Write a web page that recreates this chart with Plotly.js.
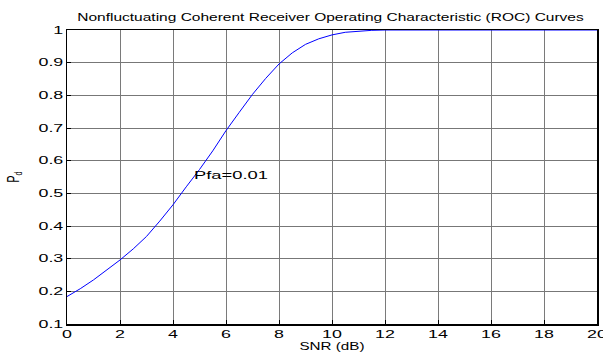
<!DOCTYPE html>
<html>
<head>
<meta charset="utf-8">
<script src="https://cdn.plot.ly/plotly-3.0.1.min.js"></script>
<style>html,body{margin:0;padding:0;background:#fff;}#chart{width:603px;height:354px;}</style>
</head>
<body>
<div id="chart"></div>
<script>
const snrDb = [0,0.5,1,1.5,2,2.5,3,3.5,4,4.5,5,5.5,6,6.5,7,7.5,8,8.5,9,9.5,10,10.5,11,11.5,12,13,14,15,16,17,18,19,20];
const pd = [0.184,0.208,0.235,0.265,0.296,0.330,0.368,0.415,0.465,0.520,0.573,0.630,0.692,0.748,0.803,0.852,0.896,0.930,0.956,0.973,0.985,0.993,0.997,0.999,1,1,1,1,1,1,1,1,1];
const xTicks = [0,2,4,6,8,10,12,14,16,18,20];
const yTicks = [0.1,0.2,0.3,0.4,0.5,0.6,0.7,0.8,0.9,1];
const yTickText = ['0.1','0.2','0.3','0.4','0.5','0.6','0.7','0.8','0.9','1'];
const labelText = 'Pfa=0.01';
const labelPos = [4.73, 0.556];

const font = {family: 'Liberation Sans, Arial, sans-serif', size: 10.5, color: '#000'};
const gd = document.getElementById('chart');
Plotly.newPlot(gd, [{
  x: snrDb, y: pd, type: 'scatter', mode: 'lines',
  line: {color: '#0000ff', width: 1}, hoverinfo: 'skip'
}], {
  width: 603, height: 354,
  margin: {l: 67, r: 6, t: 30, b: 30},
  paper_bgcolor: '#fff', plot_bgcolor: '#fff',
  showlegend: false,
  font: font,
  title: {text: 'Nonfluctuating Coherent Receiver Operating Characteristic (ROC) Curves', font: {family: font.family, size: 10.7, color: '#000'}, x: 330.5/603, xanchor: 'center', y: 1 - 17.5/354, yanchor: 'middle'},
  xaxis: {
    range: [0, 20], tickvals: xTicks, ticks: 'inside', ticklen: 4, tickcolor: '#000',
    showgrid: true, gridcolor: '#7a7a7a', gridwidth: 1,
    showline: true, linecolor: '#000', linewidth: 1.5, mirror: true,
    zeroline: false, tickfont: font, ticklabeloverflow: 'allow',
    title: {text: 'SNR (dB)', font: font, standoff: 3}
  },
  yaxis: {
    range: [0.1, 1], tickvals: yTicks, ticktext: yTickText, ticks: 'inside', ticklen: 4, tickcolor: '#000',
    showgrid: true, gridcolor: '#777', gridwidth: 1,
    showline: true, linecolor: '#000', linewidth: 1.5, mirror: true,
    zeroline: false, tickfont: font,
    title: {text: 'P<sub>d</sub>', font: font, standoff: 29}
  },
  annotations: [{
    x: labelPos[0], y: labelPos[1], xref: 'x', yref: 'y', text: labelText,
    showarrow: false, xanchor: 'left', yanchor: 'middle', font: font
  }]
}, {displayModeBar: false, staticPlot: true}).then(function () {
  // the reference picture has horizontally widened lettering
  function stretch(el, sx, sy, mode) {
    const bb = el.getBBox();
    const ta = el.getAttribute('text-anchor') || 'start';
    let ax;
    if (mode === 'left') ax = bb.x;
    else ax = ta === 'end' ? bb.x + bb.width : (ta === 'middle' ? bb.x + bb.width / 2 : bb.x);
    const ay = bb.y + bb.height / 2;
    const t = el.getAttribute('transform') || '';
    el.setAttribute('transform', t + ' translate(' + ax + ',' + ay + ') scale(' + sx + ',' + sy + ') translate(' + (-ax) + ',' + (-ay) + ')');
  }
  gd.querySelectorAll('.xtick text, .ytick text').forEach(function (el) { stretch(el, 1.7, 1); });
  gd.querySelectorAll('.gtitle').forEach(function (el) { stretch(el, 1.45, 1); });
  gd.querySelectorAll('.g-xtitle text').forEach(function (el) { stretch(el, 1.45, 1); });
  gd.querySelectorAll('.g-ytitle text').forEach(function (el) { stretch(el, 1, 1.6); });
  gd.querySelectorAll('.annotation-text').forEach(function (el) { stretch(el, 1.75, 1, 'left'); });
});
</script>
</body>
</html>
